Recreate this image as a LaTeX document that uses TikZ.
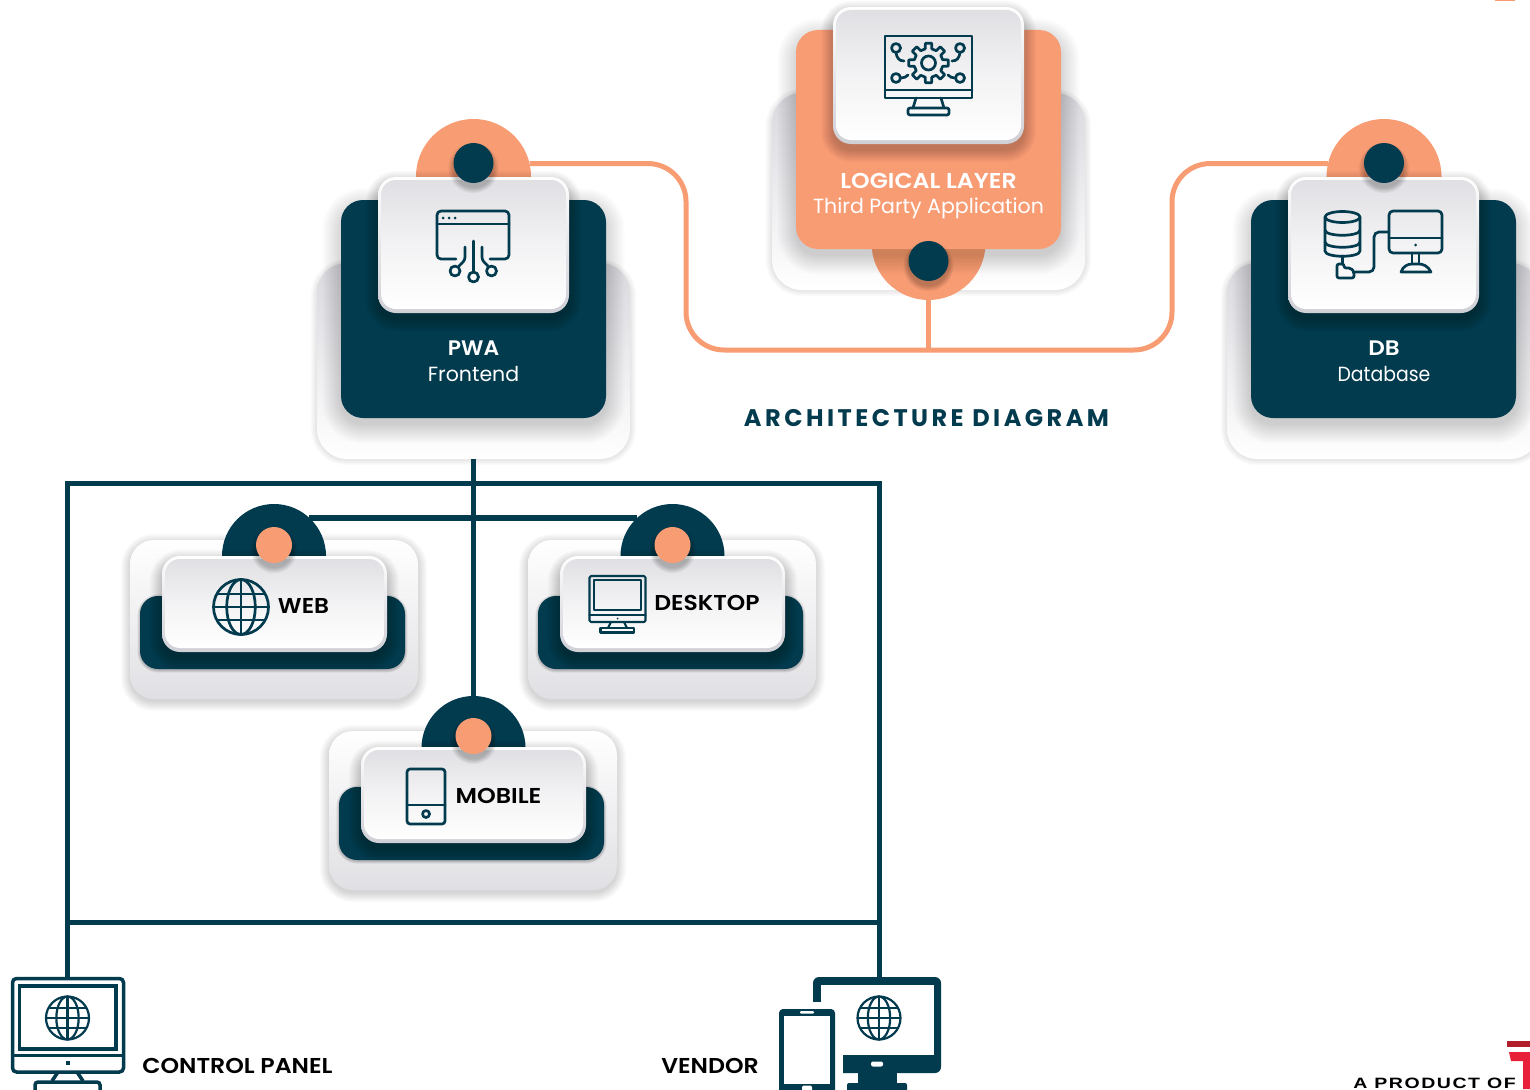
\documentclass[tikz,border=0pt]{standalone}
\usepackage{fontspec}
\setmainfont{Poppins}[BoldFont={Poppins SemiBold}]
\newfontfamily\trackfont[LetterSpace=14.5]{Poppins}
\newfontfamily\widefont[LetterSpace=8]{Liberation Sans}
\definecolor{dark}{HTML}{023A4E}
\definecolor{peach}{HTML}{F89C74}
\definecolor{cardgrey}{HTML}{E0E0E4}
\definecolor{rimgrey}{HTML}{CFCFD6}
\definecolor{logored}{HTML}{E8213A}
\definecolor{logodark}{HTML}{B01F2B}
\newcommand\fs[1]{\fontsize{#1}{#1}\selectfont}
\newcommand\sx[2]{\scalebox{#1}[1]{#2}}
\newcommand\bx[6][]{%
  \pgfmathsetmacro\bxcx{(#3+#5)/2}\pgfmathsetmacro\bxcy{(#4+#6)/2}%
  \pgfmathsetmacro\bxw{#5-#3}\pgfmathsetmacro\bxh{#6-#4}%
  \node[box,#1,minimum width=\bxw pt,minimum height=\bxh pt] (#2) at (\bxcx,\bxcy) {};}
% x1 y1 x2 y2 radius dy spread opacity
\newcommand\softshadow[8]{%
  \foreach \ssi in {1,...,14}{%
    \pgfmathsetmacro\sss{#7*(1-\ssi/14)}%
    \pgfmathsetmacro\ssr{#5+\sss}%
    \fill[black,opacity=#8,rounded corners=\ssr pt]
      ({#1-\sss},{#2+#6-\sss}) rectangle ({#3+\sss},{#4+#6+\sss});}}
\newcommand\dotshadow[4]{%
  \foreach \ssi in {1,...,8}{%
    \pgfmathsetmacro\ssq{#3+6*(1-\ssi/8)}%
    \fill[black,opacity=0.03] (#1,#2+5) circle[radius=\ssq];}}
% name x1 y1 x2 y2 radius
\newcommand\whitecard[6]{%
  \softshadow{#2}{#3}{#4}{#5}{#6}{6}{13}{0.017}%
  \bx[rounded corners=#6 pt,top color=white,bottom color=rimgrey]{#1Rim}{#2}{#3}{#4}{#5}%
  \pgfmathsetmacro\wcr{#6-3}%
  \pgfmathsetmacro\wca{#2+3}\pgfmathsetmacro\wcb{#3+3}\pgfmathsetmacro\wcc{#4-3}\pgfmathsetmacro\wcd{#5-4}%
  \edef\wcargs{{#1}{\wca}{\wcb}{\wcc}{\wcd}}%
  \expandafter\bxcard\wcargs{\wcr}}
\newcommand\bxcard[6]{\bx[rounded corners=#6 pt,top color=cardgrey,bottom color=white,middle color=white!60!cardgrey]{#1}{#2}{#3}{#4}{#5}}
\newcommand\globeicon[4]{%
  \begin{scope}[shift={(#1,#2)},line width=#4,draw=dark]
    \draw (0,0) circle[radius=#3];
    \draw (0,0) ellipse[x radius=0.52*#3,y radius=#3];
    \draw (0,-#3) -- (0,#3);
    \draw (-#3,0) -- (#3,0);
    \draw (-0.88*#3,-0.47*#3) -- (0.88*#3,-0.47*#3);
    \draw (-0.88*#3,0.47*#3) -- (0.88*#3,0.47*#3);
  \end{scope}}
\tikzset{
  x=1pt,y=-1pt,
  box/.style={rectangle,inner sep=0pt,outer sep=0pt,draw=none},
  disc/.style={circle,inner sep=0pt,outer sep=0pt,draw=none},
  lbl/.style={inner sep=0pt,outer sep=0pt,align=center},
  iconline/.style={draw=dark,line width=2.7pt,line cap=round,line join=round},
  thinicon/.style={draw=dark,line width=2.1pt,line cap=round,line join=round},
  darkbar/.style={draw=dark,line width=5pt},
  peachbar/.style={draw=peach,line width=5pt},
  outertop/.style={rounded corners=30pt,top color=rimgrey!80,middle color=white,bottom color=white},
  outerlow/.style={rounded corners=24pt,top color=white,middle color=white!96!cardgrey,bottom color=cardgrey},
  darkbox/.style={rounded corners=22pt,fill=dark},
  darklow/.style={rounded corners=18pt,fill=dark},
}
\begin{document}
\begin{tikzpicture}
\useasboundingbox (0,0) rectangle (1530,1089);
\clip (0,0) rectangle (1530,1089);
\fill[white] (0,0) rectangle (1530,1089);
\fill[peach] (1495,0) rectangle (1515,1);

% ---------- LOGICAL LAYER
\softshadow{772}{95}{1085}{290}{30}{0}{7}{0.006}
\bx[outertop]{logOuter}{772}{93}{1085}{290}
\node[disc,fill=peach,minimum size=114pt] (logCirc) at (928.5,243) {};
\softshadow{796}{30}{1061}{249}{22}{7}{20}{0.013}
\bx[rounded corners=22pt,fill=peach]{logBox}{796}{30}{1061}{249}
\whitecard{logCard}{833}{7}{1024}{144}{18}
\dotshadow{928.5}{261}{20}{}
\node[disc,fill=dark,minimum size=40pt] (logDot) at (928.5,261) {};
\node[lbl,text=white,font=\bfseries\fs{21.5}] (logT1) at (928.5,180.5) {\sx{1.1}{LOGICAL LAYER}};
\node[lbl,text=white,font=\fs{20.5}] (logT2) at (928.5,208) {Third Party Application};
% logical icon
\draw[iconline] (885,36) rectangle (972,98);
\draw[iconline] (885,90) -- (972,90);
\draw[iconline] (916,98) -- (913,108) (941,98) -- (944,108);
\draw[iconline,rounded corners=2pt] (908,108) rectangle (949,115);
\begin{scope}[shift={(928.5,63)}]
  \foreach \k in {0,45,...,315}{
    \draw[iconline] (\k-13:14.5) -- (\k-9:20) -- (\k+9:20) -- (\k+13:14.5) -- (\k+32:14.5);
  }
  \draw[iconline] (0,0) circle[radius=7];
\end{scope}
\draw[iconline] (896,48) circle[radius=4.5] (960,48) circle[radius=4.5] (896,78) circle[radius=4.5] (960,78) circle[radius=4.5];
\draw[iconline] (896,53) .. controls (897,58) and (899,61) .. (904,61);
\draw[iconline] (960,53) .. controls (959,58) and (957,61) .. (952,61);
\draw[iconline] (901,78) .. controls (904,78) and (906,77) .. (908,75);
\draw[iconline] (955,78) .. controls (952,78) and (950,77) .. (948,75);

% ---------- PWA
\softshadow{317}{265}{630}{459}{30}{0}{7}{0.006}
\bx[outertop]{pwaOuter}{317}{263}{630}{459}
\softshadow{341}{200}{606}{418}{22}{7}{20}{0.013}
\bx[darkbox]{pwaBox}{341}{200}{606}{418}
\node[disc,fill=peach,minimum size=115pt] (pwaCirc) at (473.5,176.5) {};
\whitecard{pwaCard}{378}{177}{569}{313}{18}
\dotshadow{473.5}{163}{20}{}
\node[disc,fill=dark,minimum size=40pt] (pwaDot) at (473.5,163) {};
\node[lbl,text=white,font=\bfseries\fs{21}] (pwaT1) at (473.5,348.5) {\sx{1.04}{PWA}};
\node[lbl,text=white,font=\fs{20.5}] (pwaT2) at (473.5,374) {Frontend};
% pwa icon
\draw[iconline,rounded corners=4pt] (456,259) -- (437,259) -- (437,211) -- (509,211) -- (509,259) -- (490,259);
\draw[iconline] (437,224) -- (509,224);
\fill[dark] (443,218) circle[radius=1.5] (449,218) circle[radius=1.5] (455,218) circle[radius=1.5];
\draw[iconline] (473.5,241) -- (473.5,272);
\draw[iconline] (473.5,277) circle[radius=5];
\draw[iconline] (455,271) circle[radius=5] (491.5,271) circle[radius=5];
\draw[iconline] (465,247) -- (465,257) .. controls (465,261) and (462,263) .. (459,266);
\draw[iconline] (482,247) -- (482,257) .. controls (482,261) and (485,263) .. (488,266);

% ---------- DB
\softshadow{1227}{265}{1540}{459}{30}{0}{7}{0.006}
\bx[outertop]{dbOuter}{1227}{263}{1540}{459}
\softshadow{1251}{200}{1516}{418}{22}{7}{20}{0.013}
\bx[darkbox]{dbBox}{1251}{200}{1516}{418}
\node[disc,fill=peach,minimum size=115pt] (dbCirc) at (1384,176.5) {};
\whitecard{dbCard}{1288}{177}{1479}{313}{18}
\dotshadow{1384}{163}{20}{}
\node[disc,fill=dark,minimum size=40pt] (dbDot) at (1384,163) {};
\node[lbl,text=white,font=\bfseries\fs{21}] (dbT1) at (1384,348.5) {\sx{1.1}{DB}};
\node[lbl,text=white,font=\fs{20.5}] (dbT2) at (1384,374) {\sx{0.92}{Database}};
% db icon
\draw[iconline] (1325,217) -- (1325,251) .. controls (1325,258) and (1360,258) .. (1360,251) -- (1360,217);
\draw[iconline] (1342.5,217) ellipse[x radius=17.5,y radius=5.5];
\draw[iconline] (1325,230) .. controls (1325,237) and (1360,237) .. (1360,230);
\draw[iconline] (1325,242) .. controls (1325,249) and (1360,249) .. (1360,242);
\draw[iconline] (1342.5,256) -- (1342.5,264);
\draw[iconline,rounded corners=2pt] (1337,264) -- (1344,264) -- (1344,268) -- (1351,268) -- (1354,272) -- (1354,278) -- (1337,278) -- cycle;
\draw[iconline,rounded corners=5pt] (1354,272) -- (1374,272) -- (1374,232) -- (1389,232);
\draw[iconline,rounded corners=4pt] (1389,211) rectangle (1442,253);
\draw[iconline] (1389,238) -- (1442,238);
\fill[dark] (1415.5,245) circle[radius=1.5];
\draw[iconline] (1412,253) -- (1412,264) (1419,253) -- (1419,264);
\draw[iconline] (1401,272) .. controls (1403,266) and (1408,264) .. (1412,264) -- (1419,264) .. controls (1423,264) and (1428,266) .. (1431,272) -- cycle;

% ---------- TITLE
\node[lbl,text=dark,font=\trackfont\bfseries\fs{24}] (title) at (926.5,418) {ARCHITECTURE DIAGRAM};

% ---------- FRAME
\bx[draw=dark,line width=5pt]{frame}{67.5}{483.5}{879.5}{922}

% ---------- WEB
\softshadow{130}{540}{418}{699}{24}{3}{10}{0.013}
\bx[outerlow]{webOuter}{130}{540}{418}{699}
\softshadow{140}{596}{405}{669}{18}{1}{3}{0.015}
\bx[darklow]{webBox}{140}{596}{405}{669}
\node[disc,fill=dark,minimum size=104pt] (webCirc) at (274,556) {};
\whitecard{webCard}{162}{556}{387}{652}{18}
\dotshadow{274}{545}{18}{}
\node[disc,fill=peach,minimum size=36pt] (webDot) at (274,545) {};
\globeicon{241}{607}{27.5}{2.7pt}
\node[lbl,text=black,font=\bfseries\fs{21.5}] (webT) at (303.5,606) {\sx{1.08}{WEB}};

% ---------- DESKTOP
\softshadow{528}{540}{816}{699}{24}{3}{10}{0.013}
\bx[outerlow]{deskOuter}{528}{540}{816}{699}
\softshadow{538}{596}{803}{669}{18}{1}{3}{0.015}
\bx[darklow]{deskBox}{538}{596}{803}{669}
\node[disc,fill=dark,minimum size=104pt] (deskCirc) at (672.5,556) {};
\whitecard{deskCard}{560}{556}{785}{652}{18}
\dotshadow{672.5}{545}{18}{}
\node[disc,fill=peach,minimum size=36pt] (deskDot) at (672.5,545) {};
\draw[thinicon,rounded corners=1.5pt] (589.5,576) rectangle (645.5,622);
\draw[thinicon] (594,580) rectangle (641,610);
\draw[thinicon] (589.5,615) -- (645.5,615);
\fill[dark] (617.5,618.5) circle[radius=1];
\draw[thinicon] (611,622) -- (608,628) (624,622) -- (627,628);
\draw[thinicon] (600.5,628) rectangle (634,632.5);
\node[lbl,text=black,font=\bfseries\fs{21.5}] (deskT) at (707,603) {\sx{1.09}{DESKTOP}};

% ---------- MOBILE
\softshadow{329}{731}{617}{890}{24}{3}{10}{0.013}
\bx[outerlow]{mobOuter}{329}{731}{617}{890}
\softshadow{339}{787}{604}{860}{18}{1}{3}{0.015}
\bx[darklow]{mobBox}{339}{787}{604}{860}
\node[disc,fill=dark,minimum size=104pt] (mobCirc) at (473.5,748) {};
\whitecard{mobCard}{361}{747}{586}{843}{18}
\dotshadow{473.5}{736}{18}{}
\node[disc,fill=peach,minimum size=36pt] (mobDot) at (473.5,736) {};
\draw[iconline,rounded corners=3pt] (407,769) rectangle (445,824);
\draw[iconline] (407,805) -- (445,805);
\draw[iconline] (426,814) circle[radius=3.5];
\node[lbl,text=black,font=\bfseries\fs{21.5}] (mobT) at (498.5,796) {\sx{1.11}{MOBILE}};

% ---------- CONTROL PANEL
\bx[draw=dark,line width=3.5pt,rounded corners=4pt]{cpMon}{12.5}{978.5}{123.5}{1072}
\draw[dark,line width=3.5pt] (19.5,986) rectangle (116,1049);
\draw[dark,line width=3.5pt] (12.5,1055.5) -- (123.5,1055.5);
\fill[dark] (65.5,1061) rectangle (69.5,1065);
\draw[dark,line width=3.5pt] (52,1081) -- (58,1072) (83,1081) -- (77,1072);
\draw[dark,line width=3.5pt,rounded corners=3pt] (35,1082) rectangle (100,1100);
\globeicon{67.5}{1018}{21.5}{2.2pt}
\node[lbl,text=black,font=\bfseries\fs{21.5}] (cpT) at (237.5,1066) {\sx{1.1}{CONTROL PANEL}};

% ---------- VENDOR
\bx[fill=dark,rounded corners=6pt]{venMon}{813}{977}{941}{1073}
\fill[white] (821,985) rectangle (934,1055);
\fill[white] (812,1002) rectangle (843,1074);
\fill[white,rounded corners=2pt] (871,1061.5) rectangle (883,1066.5);
\fill[dark] (858,1073) rectangle (897,1085);
\fill[dark,rounded corners=2pt] (847,1083) rectangle (907,1100);
\fill[dark,rounded corners=4pt] (779,1009) rectangle (835,1100);
\fill[white] (784,1016) rectangle (830,1084);
\fill[white,rounded corners=1pt] (800,1011) rectangle (814,1013.5);
\fill[white,rounded corners=2pt] (802,1085.5) rectangle (812,1095);
\globeicon{879}{1018}{21.5}{2.2pt}
\node[lbl,text=black,font=\bfseries\fs{21.5}] (venT) at (710,1066) {\sx{1.1}{VENDOR}};

% ---------- FOOTER
\node[lbl,text=black,font=\widefont\bfseries\fs{15}] (prod) at (1434.5,1083) {\sx{1.3}{A PRODUCT OF}};
\fill[logodark] (1507,1041) -- (1530,1041) -- (1530,1047) -- (1507,1047) -- cycle;
\fill[logored] (1509,1052) -- (1530,1052) -- (1530,1089) -- (1523,1089) -- (1523,1061) -- (1511,1061) -- cycle;

% ---------- CONNECTORS
\coordinate (busL) at (686,350);
\coordinate (busR) at (1172,350);
\coordinate (busM) at (928.5,350);
\draw[peachbar,rounded corners=38pt] (pwaCirc.13) -| (busL) -- (busR) |- (dbCirc.167);
\draw[peachbar] (logCirc.south) -- (busM);
\draw[darkbar] (pwaOuter.south) -- (mobCirc.north);
\draw[darkbar,line width=6pt] (webCirc.47) -- (deskCirc.133);
\draw[darkbar] (frame.south west) -- (frame.south west |- cpMon.north);
\draw[darkbar] (frame.south east) -- (frame.south east |- venMon.north);
\end{tikzpicture}
\end{document}
